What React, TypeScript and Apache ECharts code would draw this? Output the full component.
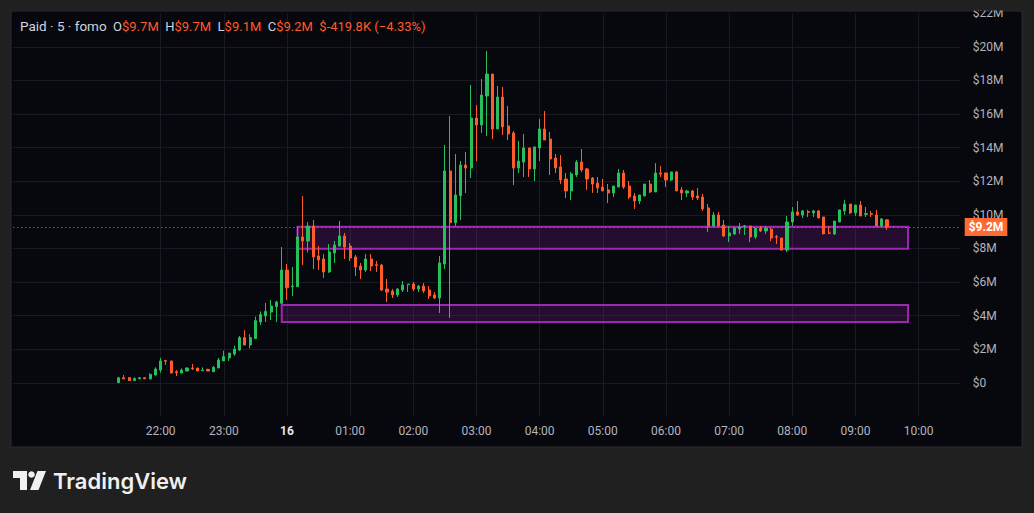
import React, { useEffect, useRef } from 'react';
import * as echarts from 'echarts';

// ---- data (values in $M), 5-minute bars starting at 21:20 ----
const firstBar = '21:20';
const opens = [
  0.01, 0.30, 0.30, 0.13, 0.24, 0.30, 0.23, 0.46, 0.76, 1.32, 1.30, 0.66, 0.58, 0.70, 0.88, 0.88,
  0.72, 0.80, 0.66, 0.88, 1.30, 1.48, 1.71, 1.95, 2.69, 2.25, 2.63, 3.62, 3.98, 4.21, 4.53, 4.73,
  6.71, 5.72, 5.72, 8.68, 8.44, 9.33, 7.55, 7.37, 6.60, 7.73, 8.14, 8.74, 8.14, 7.49, 6.95, 6.71,
  7.37, 7.03, 7.01, 5.58, 5.46, 5.23, 5.52, 5.84, 5.88, 5.58, 5.76, 5.52, 5.23, 5.05, 7.07, 12.61,
  9.53, 11.14, 12.96, 12.79, 15.76, 15.35, 17.07, 18.38, 15.11, 17.01, 15.29, 14.87, 12.79, 13.14, 13.98, 12.73,
  13.98, 15.11, 14.51, 13.38, 12.85, 12.13, 11.42, 12.37, 13.14, 12.73, 12.19, 11.89, 11.65, 11.48, 11.30, 11.65,
  12.49, 11.71, 11.12, 10.82, 11.12, 11.83, 11.36, 12.49, 12.49, 12.07, 12.55, 11.48, 11.30, 11.42, 11.12, 11.06,
  10.41, 9.33, 9.99, 9.39, 8.74, 8.86, 9.15, 9.31, 9.33, 8.68, 9.21, 9.04, 9.15, 8.70, 8.62, 7.90,
  9.57, 10.17, 9.99, 10.19, 10.11, 10.23, 9.87, 8.92, 8.86, 9.57, 10.23, 10.64, 10.11, 10.58, 10.03, 10.07,
  9.99, 9.33, 9.70,
];
const closes = [
  0.30, 0.23, 0.13, 0.25, 0.30, 0.24, 0.50, 0.82, 1.30, 1.28, 0.58, 0.60, 0.76, 0.88, 0.84, 0.70,
  0.76, 0.70, 0.92, 1.36, 1.56, 1.77, 2.01, 2.69, 2.25, 2.69, 3.70, 4.06, 4.25, 4.57, 4.81, 6.71,
  5.66, 5.76, 8.68, 8.44, 9.33, 7.49, 7.31, 6.60, 7.79, 8.20, 8.74, 8.08, 7.43, 6.89, 6.71, 7.37,
  6.95, 6.99, 5.52, 5.40, 5.23, 5.58, 5.82, 5.88, 5.58, 5.76, 5.46, 5.17, 5.05, 7.13, 12.61, 9.53,
  11.18, 12.96, 12.79, 15.76, 15.35, 17.13, 18.38, 15.11, 17.01, 15.23, 14.81, 12.79, 13.20, 13.98, 12.73, 14.04,
  15.11, 14.45, 13.32, 12.79, 12.07, 11.42, 12.43, 13.14, 12.67, 12.13, 11.83, 11.60, 11.42, 11.30, 11.71, 12.49,
  11.65, 11.06, 10.82, 11.18, 11.83, 11.36, 12.49, 12.43, 12.07, 12.55, 11.42, 11.30, 11.42, 11.06, 11.00, 10.35,
  9.33, 9.99, 9.33, 8.74, 8.92, 9.21, 9.27, 9.35, 8.68, 9.21, 9.04, 9.21, 8.62, 8.66, 7.90, 9.57,
  10.17, 9.99, 10.23, 10.15, 10.23, 9.81, 8.86, 8.90, 9.63, 10.29, 10.64, 10.11, 10.58, 9.93, 10.07, 10.03,
  9.33, 9.75, 9.275,
];
const lows = [
  0.00, 0.22, 0.12, 0.12, 0.22, 0.22, 0.22, 0.45, 0.60, 1.06, 0.58, 0.40, 0.58, 0.70, 0.76, 0.70,
  0.72, 0.70, 0.66, 0.88, 1.30, 1.30, 1.61, 1.89, 2.25, 2.05, 2.63, 3.44, 3.62, 3.74, 3.62, 4.70,
  4.93, 5.17, 5.70, 7.01, 7.75, 6.77, 6.71, 6.24, 6.54, 7.13, 8.14, 7.37, 7.25, 6.36, 6.18, 6.60,
  6.65, 6.60, 5.46, 4.81, 5.05, 5.11, 5.40, 5.40, 5.46, 5.40, 5.34, 4.99, 4.99, 4.15, 6.77, 3.86,
  9.33, 9.69, 11.30, 12.19, 13.20, 14.87, 14.69, 14.51, 15.11, 14.75, 14.45, 11.77, 12.49, 12.25, 12.25, 12.01,
  13.20, 14.45, 12.37, 12.49, 11.83, 11.00, 10.88, 12.25, 12.55, 11.48, 11.30, 11.30, 11.42, 10.70, 11.06, 11.65,
  11.54, 10.94, 10.35, 10.64, 11.12, 11.30, 11.36, 12.25, 11.65, 12.01, 11.42, 10.88, 11.06, 10.88, 10.88, 10.23,
  8.98, 9.33, 9.33, 8.68, 8.38, 8.80, 8.86, 8.80, 8.38, 8.56, 8.98, 8.86, 8.44, 8.26, 7.90, 7.78,
  9.33, 9.93, 9.81, 9.87, 9.87, 9.81, 8.86, 8.86, 8.80, 9.57, 9.99, 10.05, 9.93, 9.93, 9.87, 9.87,
  9.33, 9.33, 9.10,
];
const highs = [
  0.35, 0.46, 0.35, 0.33, 0.34, 0.34, 0.56, 0.92, 1.48, 1.36, 1.30, 0.76, 0.86, 0.92, 1.12, 0.88,
  0.92, 0.84, 1.00, 1.48, 1.91, 1.77, 2.21, 2.79, 3.14, 2.90, 3.94, 4.25, 4.75, 4.93, 4.89, 8.08,
  7.07, 6.89, 9.29, 11.12, 9.57, 9.69, 8.14, 7.67, 8.26, 8.44, 9.63, 8.92, 8.32, 7.61, 7.13, 7.67,
  7.67, 7.25, 7.07, 6.18, 5.58, 5.64, 6.06, 5.88, 6.00, 5.82, 5.94, 5.76, 5.40, 7.55, 14.16, 15.88,
  13.62, 13.20, 13.74, 17.73, 16.54, 18.08, 19.75, 18.38, 17.67, 17.61, 16.48, 14.99, 14.39, 14.81, 13.98, 14.04,
  15.70, 16.18, 14.93, 13.62, 13.56, 12.49, 12.55, 13.26, 13.92, 12.79, 12.25, 12.25, 12.13, 11.83, 11.71, 12.73,
  12.67, 12.01, 11.30, 11.18, 11.83, 12.07, 13.08, 12.90, 12.49, 12.55, 12.61, 11.65, 11.48, 11.48, 11.60, 11.24,
  10.64, 10.17, 10.17, 9.69, 9.33, 9.27, 9.51, 9.39, 9.33, 9.21, 9.33, 9.33, 9.21, 8.80, 8.62, 9.93,
  10.46, 10.82, 10.29, 10.29, 10.29, 10.29, 9.87, 9.33, 9.63, 10.29, 10.88, 10.64, 10.58, 10.82, 10.46, 10.23,
  10.29, 9.81, 9.70,
];

const timeLabels = ['22:00', '23:00', '00:00', '01:00', '02:00', '03:00', '04:00', '05:00', '06:00', '07:00', '08:00', '09:00', '10:00'];
const dayLabel = '16';
const zoneUpper = { from: '00:10', to: '09:50', top: 9.29, bottom: 7.98 };
const zoneLower = { from: '23:55', to: '09:50', top: 4.63, bottom: 3.62 };
const lastPrice = 9.275;
const lastPriceLabel = '$9.2M';
const header = { name: 'Paid · 5 · fomo', o: '$9.7M', h: '$9.7M', l: '$9.1M', c: '$9.2M', chg: '$-419.8K (−4.33%)' };

const UP = '#26bf5c';
const DOWN = '#ff5b2b';
const FONT = 'Roboto, "Noto Sans", sans-serif';

const toLabel = (m: number) => {
  const t = ((m % 1440) + 1440) % 1440;
  const h = Math.floor(t / 60);
  const mm = t % 60;
  return `${String(h).padStart(2, '0')}:${String(mm).padStart(2, '0')}`;
};

export default function App() {
  const ref = useRef<HTMLDivElement>(null);

  useEffect(() => {
    if (!ref.current) return;
    const chart = echarts.init(ref.current, undefined, { renderer: 'svg' });

    const categories: string[] = [];
    for (let m = -260; m <= 640; m += 5) categories.push(toLabel(m));
    const start = categories.indexOf(firstBar);
    const candles = opens.map((o, i) => [categories[start + i], o, closes[i], lows[i], highs[i]]);

    const W = 1034;
    const gridLeft = 13.3;
    const gridRight = W - 960.7;
    const gridTop = 13.2;
    const gridBottom = 513 - 416.4;

    chart.setOption({
      animation: false,
      backgroundColor: '#202020',
      textStyle: { fontFamily: FONT },
      title: {
        left: 20,
        top: 19,
        padding: 0,
        text: `{t|${header.name}}  {k|O}{v|${header.o}}  {k|H}{v|${header.h}}  {k|L}{v|${header.l}}  {k|C}{v|${header.c}}  {v|${header.chg}}`,
        textStyle: {
          fontSize: 13,
          fontWeight: 'normal',
          rich: {
            t: { color: '#d1d4dc', fontSize: 13.5, fontFamily: FONT },
            k: { color: '#d1d4dc', fontSize: 13, fontFamily: FONT },
            v: { color: DOWN, fontSize: 13, fontFamily: FONT },
          },
        },
      },
      graphic: [
        { type: 'rect', z: -10, shape: { x: 11, y: 11, width: 1011, height: 436 }, style: { fill: '#07070e', stroke: '#2c2c2c', lineWidth: 1 } },
        { type: 'rect', z: 100, shape: { x: 0, y: 0, width: W, height: 10.5 }, style: { fill: '#202020' } },
        { type: 'polygon', z: 100, shape: { points: [[13, 471], [27, 471], [27, 490], [20, 490], [20, 478], [13, 478]] }, style: { fill: '#f0f0f0' } },
        { type: 'circle', z: 100, shape: { cx: 31.5, cy: 474.5, r: 3.3 }, style: { fill: '#f0f0f0' } },
        { type: 'polygon', z: 100, shape: { points: [[37.5, 471], [46, 471], [38.5, 490], [30, 490]] }, style: { fill: '#f0f0f0' } },
        {
          type: 'text', z: 100, x: 53, y: 481,
          style: { text: 'TradingView', fill: '#f0f0f0', font: '600 22px Inter, "Open Sans", sans-serif', textVerticalAlign: 'middle' },
        },
      ],
      grid: { left: gridLeft, right: gridRight, top: gridTop, bottom: gridBottom, containLabel: false },
      xAxis: {
        type: 'category',
        data: categories,
        boundaryGap: false,
        axisLine: { show: false },
        axisTick: { show: false },
        axisLabel: {
          interval: (_i: number, v: string) => timeLabels.includes(v),
          formatter: (v: string) => (v === '00:00' ? `{d|${dayLabel}}` : v),
          color: '#b2b5be',
          fontSize: 12,
          margin: 9,
          fontFamily: FONT,
          rich: { d: { color: '#e6e6e6', fontWeight: 'bold', fontSize: 12, fontFamily: FONT } },
        },
        splitLine: {
          show: true,
          interval: (_i: number, v: string) => timeLabels.includes(v),
          lineStyle: { color: '#1a1a24', width: 1 },
        },
      },
      yAxis: {
        type: 'value',
        position: 'right',
        min: -2,
        max: 22,
        interval: 2,
        axisLine: { show: false },
        axisTick: { show: false },
        axisLabel: {
          formatter: (v: number) => (v < 0 ? '' : v === 0 ? '$0' : `$${v}M`),
          color: '#b2b5be',
          fontSize: 12,
          margin: 12,
          fontFamily: FONT,
        },
        splitLine: { show: true, showMinLine: false, showMaxLine: false, lineStyle: { color: '#1a1a24', width: 1 } },
      },
      series: [
        {
          type: 'candlestick',
          data: candles,
          encode: { x: 0, y: [1, 2, 3, 4] },
          barWidth: 2.6,
          itemStyle: { color: UP, color0: DOWN, borderColor: UP, borderColor0: DOWN, borderWidth: 1 },
          markArea: {
            silent: true,
            itemStyle: { color: 'rgba(156,39,176,0.2)', borderColor: '#9c27b0', borderWidth: 2 },
            data: [
              [{ xAxis: zoneUpper.from, yAxis: zoneUpper.top }, { xAxis: zoneUpper.to, yAxis: zoneUpper.bottom }],
              [{ xAxis: zoneLower.from, yAxis: zoneLower.top }, { xAxis: zoneLower.to, yAxis: zoneLower.bottom }],
            ],
          },
          markLine: {
            silent: true,
            symbol: 'none',
            lineStyle: { color: '#ff6a33', type: [1, 3], width: 1 },
            label: {
              show: true,
              position: 'end',
              distance: 4,
              formatter: () => lastPriceLabel,
              backgroundColor: '#ff6a33',
              color: '#ffffff',
              fontWeight: 'bold',
              fontSize: 12,
              fontFamily: FONT,
              padding: [3, 4, 3, 4],
            },
            data: [{ yAxis: lastPrice }],
          },
        },
      ],
    });

    return () => chart.dispose();
  }, []);

  return <div ref={ref} style={{ position: 'fixed', left: 0, top: 0, width: 1034, height: 513 }} />;
}
